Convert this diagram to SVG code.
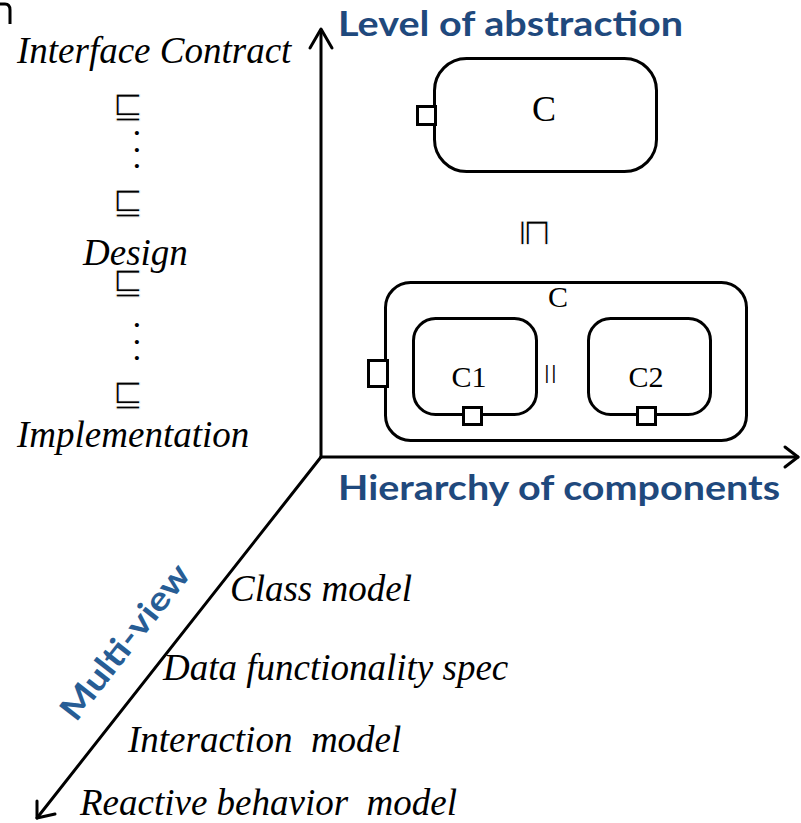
<svg xmlns="http://www.w3.org/2000/svg" width="801" height="823" viewBox="0 0 801 823">
  <style>
    .box { fill: #ffffff; stroke: #000000; stroke-width: 3; }
    .port { fill: #ffffff; stroke: #000000; stroke-width: 3; }
    .axis { fill: none; stroke: #000000; stroke-width: 3; stroke-linecap: round; stroke-linejoin: round; }
    .it { font-family: "Liberation Serif", "Times New Roman", serif; font-style: italic; font-size: 37px; fill: #000000; white-space: pre; }
    .lbl { font-family: "Liberation Serif", "Times New Roman", serif; fill: #000000; text-anchor: middle; }
    /* white outline over the fill thins the relation glyph */
    .sym { font-family: "DejaVu Sans", sans-serif; font-size: 38px; fill: #000000; stroke: #ffffff; stroke-width: 1.1; text-anchor: middle; }
    .dot { font-family: "Liberation Sans", sans-serif; font-size: 15px; fill: #000000; text-anchor: middle; }
    .title { font-family: Lato, "Open Sans", sans-serif; font-weight: bold; fill: #1F497D; }
  </style>

  <!-- stray stroke in the top-left corner -->
  <path d="M0,4 H5 Q10,4 10,10 V24" fill="none" stroke="#000" stroke-width="3"/>

  <!-- axes -->
  <g id="connectors">
    <path class="axis" d="M321,457 V30"/>
    <path class="axis" d="M310,48 L321,29 L332,48"/>
    <path class="axis" d="M321,457 H798"/>
    <path class="axis" d="M785,447 L798,457 L785,467"/>
    <path class="axis" d="M321,457 L37,818"/>
    <path class="axis" d="M37,801 L37,818 L55,814"/>
  </g>

  <!-- axis titles -->
  <text class="title" x="338" y="36" font-size="34" textLength="345" lengthAdjust="spacingAndGlyphs">Level of abstraction</text>
  <text class="title" x="338" y="500" font-size="35" textLength="442" lengthAdjust="spacingAndGlyphs">Hierarchy of components</text>
  <text class="title" x="0" y="0" font-size="33" style="fill:#275D95" textLength="188" lengthAdjust="spacingAndGlyphs" transform="translate(76,723) rotate(-52)">Multi-view</text>

  <!-- refinement chain -->
  <g id="refinement-levels">
    <text class="it" x="17" y="63">Interface Contract</text>
    <text class="sym" x="128" y="118">⊑</text>
    <text class="dot" x="137" y="138">•</text>
    <text class="dot" x="137" y="155">•</text>
    <text class="dot" x="137" y="171">•</text>
    <text class="sym" x="128" y="214">⊑</text>
    <text class="it" x="83" y="265">Design</text>
    <text class="sym" x="128" y="294">⊑</text>
    <text class="dot" x="137" y="330">•</text>
    <text class="dot" x="137" y="347">•</text>
    <text class="dot" x="137" y="363">•</text>
    <text class="sym" x="128" y="406">⊑</text>
    <text class="it" x="17" y="447">Implementation</text>
  </g>

  <!-- abstract component -->
  <g id="component-abstract">
    <rect class="box" x="434.5" y="58.5" width="222" height="113" rx="32"/>
    <rect class="port" x="417.5" y="106.5" width="18" height="18"/>
    <text class="lbl" x="544" y="121" font-size="36">C</text>
  </g>

  <!-- refinement between the two levels -->
  <text class="sym" x="0" y="0" transform="translate(536.5,233) rotate(90) translate(0,12.5)">⊑</text>

  <!-- composite component -->
  <g id="component-composite">
    <rect class="box" x="385.5" y="282.5" width="361" height="158" rx="25"/>
    <rect class="port" x="368.5" y="360.5" width="19" height="26"/>
    <text class="lbl" x="558" y="307" font-size="30">C</text>
    <g id="component-c1">
      <rect class="box" x="413.5" y="318.5" width="123" height="96" rx="22"/>
      <rect class="port" x="463.5" y="407.5" width="18" height="17"/>
      <text class="lbl" x="469" y="387" font-size="30">C1</text>
    </g>
    <text x="551" y="379" font-family="DejaVu Sans, sans-serif" font-size="17" letter-spacing="1.3" text-anchor="middle">||</text>
    <g id="component-c2">
      <rect class="box" x="588.5" y="318.5" width="122" height="96" rx="22"/>
      <rect class="port" x="637.5" y="407.5" width="18" height="17"/>
      <text class="lbl" x="646" y="387" font-size="30">C2</text>
    </g>
  </g>

  <!-- views -->
  <g id="views">
    <text class="it" x="230" y="601">Class model</text>
    <text class="it" x="163" y="680">Data functionality spec</text>
    <text class="it" x="128" y="752">Interaction  model</text>
    <text class="it" x="80" y="815">Reactive behavior  model</text>
  </g>
</svg>
